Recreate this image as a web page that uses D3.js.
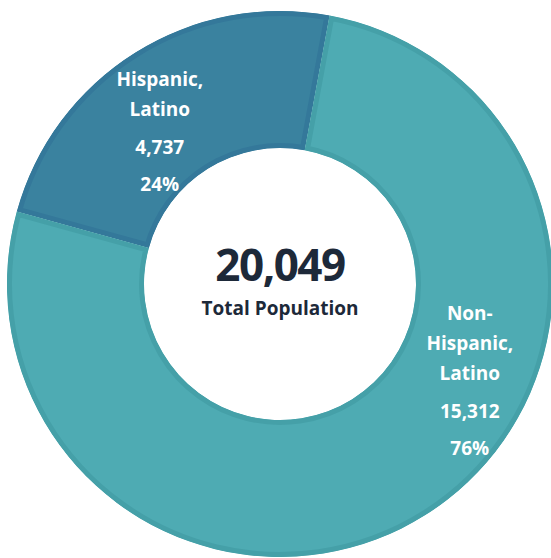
<!DOCTYPE html>
<html>
<head>
<meta charset="utf-8">
<script src="https://cdn.jsdelivr.net/npm/d3@7"></script>
<style>
  html, body { margin: 0; padding: 0; background: #ffffff; }
  svg { display: block; }
  text { font-family: "Open Sans", Lato, sans-serif; }
</style>
</head>
<body>
<svg id="chart" width="551" height="558"></svg>
<script>
// Population by ethnicity
const categories = ["Hispanic, Latino", "Non-Hispanic, Latino"];
const labelLines = [["Hispanic,", "Latino"], ["Non-", "Hispanic,", "Latino"]];
const values = [4737, 15312];
const totalLabel = "Total Population";

const fills = ["#3a829f", "#4eabb3"];
const borders = ["#34789a", "#45a0a8"];

const width = 551, height = 558;
const cx = 280, cy = 284;
const outerR = 273, innerR = 136;
const border = 5;

const svg = d3.select("#chart");
const g = svg.append("g").attr("transform", `translate(${cx},${cy})`);

const total = d3.sum(values);
const data = categories.map((c, i) => ({ name: c, lines: labelLines[i], value: values[i], i }));

const start = -74.6 * Math.PI / 180;
const pie = d3.pie().value(d => d.value).sort(null)
  .startAngle(start).endAngle(start + 2 * Math.PI);
const arcs = pie(data);

const arc = d3.arc().innerRadius(innerR).outerRadius(outerR);

// slice bodies with an inset border, clipped to each slice's own shape
const defs = svg.append("defs");
arcs.forEach((a, k) => {
  defs.append("clipPath").attr("id", "clip" + k)
    .append("path").attr("d", arc(a));
});

g.selectAll("path.slice")
  .data(arcs)
  .join("path")
  .attr("class", "slice")
  .attr("d", arc)
  .attr("fill", d => fills[d.data.i])
  .attr("stroke", d => borders[d.data.i])
  .attr("stroke-width", border * 2)
  .attr("stroke-linejoin", "miter")
  .attr("clip-path", (d, k) => `url(#clip${k})`);

// data labels placed along each slice
const labelPos = [
  { angle: -38.3, r: 194 },
  { angle: 117, r: 213 }
];
const fmt = d3.format(",");
const pct = v => Math.round(v / total * 100) + "%";

arcs.forEach((a, k) => {
  const p = labelPos[k];
  const ang = p.angle * Math.PI / 180;
  const lx = p.r * Math.sin(ang), ly = -p.r * Math.cos(ang);
  const rows = a.data.lines.map(t => ({ t, gap: 30 }))
    .concat([{ t: fmt(a.data.value), gap: 38 }, { t: pct(a.data.value), gap: 37 }]);
  let h = 0;
  rows.forEach((r, j) => { if (j > 0) h += r.gap; });
  let y = ly - h / 2;
  const lg = g.append("g");
  rows.forEach((r, j) => {
    if (j > 0) y += r.gap;
    lg.append("text")
      .attr("x", lx).attr("y", y)
      .attr("dy", "0.35em")
      .attr("text-anchor", "middle")
      .attr("fill", "#ffffff")
      .attr("font-weight", 700)
      .attr("font-size", 19)
      .text(r.t);
  });
});

// center total
g.append("text")
  .attr("x", 0).attr("y", -18)
  .attr("dy", "0.35em")
  .attr("text-anchor", "middle")
  .attr("fill", "#1d2939")
  .attr("font-weight", 700)
  .attr("font-size", 44)
  .attr("letter-spacing", -1.5)
  .text(fmt(total));

g.append("text")
  .attr("x", 0).attr("y", 24)
  .attr("dy", "0.35em")
  .attr("text-anchor", "middle")
  .attr("fill", "#1d2939")
  .attr("font-weight", 700)
  .attr("font-size", 19)
  .text(totalLabel);
</script>
</body>
</html>
